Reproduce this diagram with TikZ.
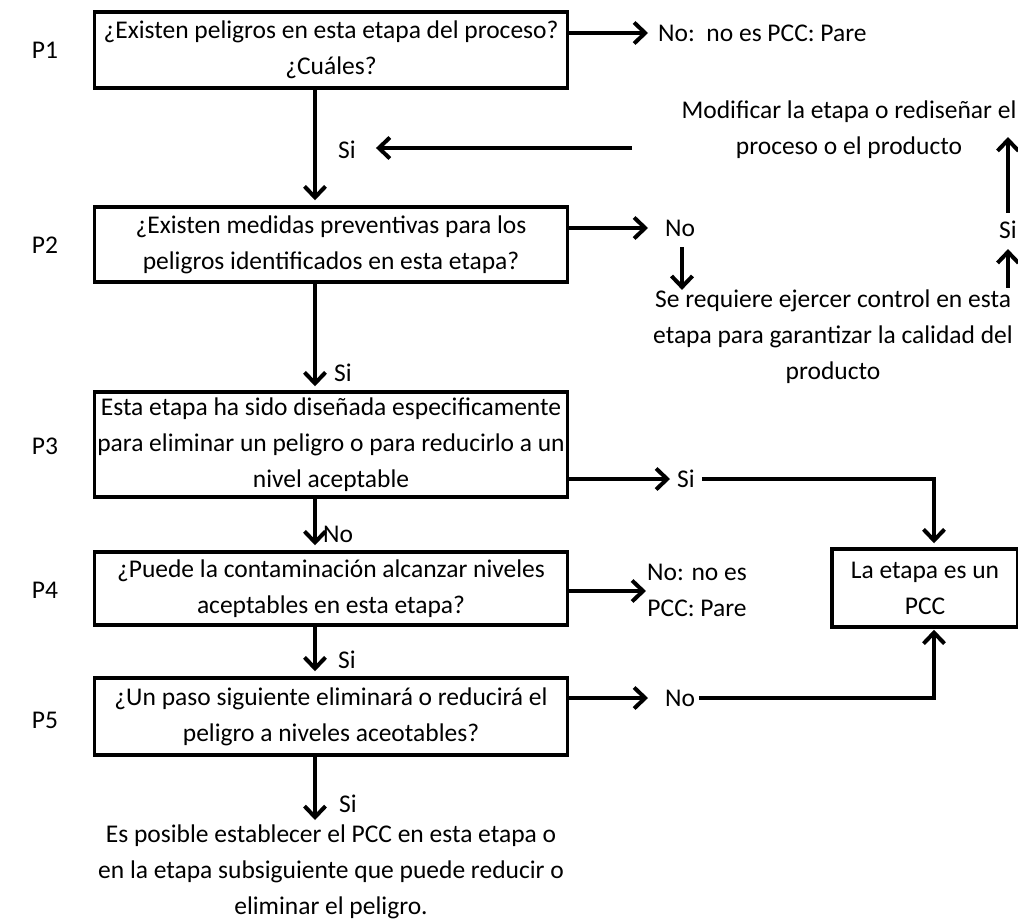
\documentclass[tikz,border=0pt]{standalone}
\usepackage{fontspec}
\setmainfont{Carlito}
\usetikzlibrary{arrows.meta}
\begin{document}
\begin{tikzpicture}[x=1pt,y=-1pt,
  every node/.style={font=\fontsize{25.5}{36}\selectfont, inner sep=0pt},
  box/.style={draw, line width=3.5pt, align=center, minimum width=473pt},
  txt/.style={align=center},
  arr/.style={line width=4pt, -{Straight Barb[length=11pt,width=21pt,line width=4pt]}},
  ln/.style={line width=4pt}]
\useasboundingbox (0,0) rectangle (1018,924);

% question labels
\node (l1) at (45,50) {P1};
\node (l2) at (45,245) {P2};
\node (l3) at (45,446) {P3};
\node (l4) at (45,590) {P4};
\node (l5) at (45,720) {P5};

% main question boxes
\node[box, minimum height=76pt] (p1) at (331,50) {¿Existen peligros en esta etapa del proceso?\\¿Cuáles?};
\node[box, minimum height=75pt] (p2) at (331,244.5) {¿Existen medidas preventivas para los\\peligros identificados en esta etapa?};
\node[box, minimum height=105pt] (p3) at (331,444.5) {Esta etapa ha sido diseñada especificamente\\para eliminar un peligro o para reducirlo a un\\nivel aceptable};
\node[box, minimum height=73pt] (p4) at (331,588.5) {¿Puede la contaminación alcanzar niveles\\aceptables en esta etapa?};
\node[box, minimum height=77pt] (p5) at (331,716.5) {¿Un paso siguiente eliminará o reducirá el\\peligro a niveles aceotables?};
\node[box, minimum width=186pt, minimum height=78pt] (pcc) at (925,588) {La etapa es un\\PCC};

% outcome texts
\node[anchor=west] (no1) at (658,33) {No:\ \ no es PCC: Pare};
\node[txt] (mod) at (849,130) {Modificar la etapa o rediseñar el\\proceso o el producto};
\node[anchor=west] (no2) at (665,228) {No};
\node[txt] (req) at (833,337) {Se requiere ejercer control en esta\\etapa para garantizar la calidad del\\producto};
\node[anchor=west] (si2) at (999,230) {Si};
\node (no4) at (697,591) {\begin{tabular}{@{}c@{}}No: no es\\PCC:\ Pare\end{tabular}};
\node[anchor=west] (si3) at (677,479) {Si};
\node[anchor=west] (no5) at (665,698) {No};
\node[txt] (fin) at (331,872) {Es posible establecer el PCC en esta etapa o\\en la etapa subsiguiente que puede reducir o\\eliminar el peligro.};

% branch labels on the main column
\node[anchor=west] (s1) at (338,150) {Si};
\node[anchor=west] (s2) at (334,373) {Si};
\node[anchor=west] (s3) at (323,534) {No};
\node[anchor=west] (s4) at (338,660) {Si};
\node[anchor=west] (s5) at (339,804) {Si};

% helper coordinates
\coordinate (mx) at (315,0);
\coordinate (rx) at (934,0);
\coordinate (ex) at (1008,0);
\coordinate (mfrom) at (632,148);
\coordinate (mtip) at (1008,137);
\coordinate (ntop) at (682,247);
\coordinate (ftip) at (315,820);

% main column
\draw[arr, shorten >=5pt] (p1.south -| mx) -- (p2.north -| mx);
\draw[arr, shorten >=4pt] (p2.south -| mx) -- (p3.north -| mx);
\draw[arr, shorten >=5pt] (p3.south -| mx) -- (p4.north -| mx);
\draw[arr, shorten >=5pt] (p4.south -| mx) -- (p5.north -| mx);
\draw[arr] (p5.south -| mx) -- (ftip);

% P1 branches
\draw[arr, shorten >=10pt] (p1.east |- no1.west) -- (no1.west);
\draw[arr, shorten >=20pt] (mfrom) -- (s1.east |- mfrom);

% P2 branches
\draw[arr, shorten >=17pt] (p2.east |- no2.west) -- (no2.west);
\draw[arr] (ntop) -- (req.north -| ntop);
\draw[arr, shorten <=2pt, shorten >=10pt] (req.north -| ex) -- (si2.south -| ex);
\draw[arr, shorten <=8pt] (si2.north -| ex) -- (mtip);

% P3 branch to PCC
\draw[arr, shorten >=7pt] (p3.east |- si3.west) -- (si3.west);
\draw[arr, shorten >=4pt] ([xshift=7pt]si3.east) -- (si3.east -| rx) -- (pcc.north -| rx);

% P4 branch
\draw[arr, shorten >=1pt] (p4.east |- no4.west) -- (no4.west);

% P5 branch to PCC
\draw[arr, shorten >=17pt] (p5.east |- no5.west) -- (no5.west);
\draw[arr, shorten >=1pt] ([xshift=4pt]no5.east) -- (no5.east -| rx) -- (pcc.south -| rx);
\end{tikzpicture}
\end{document}
